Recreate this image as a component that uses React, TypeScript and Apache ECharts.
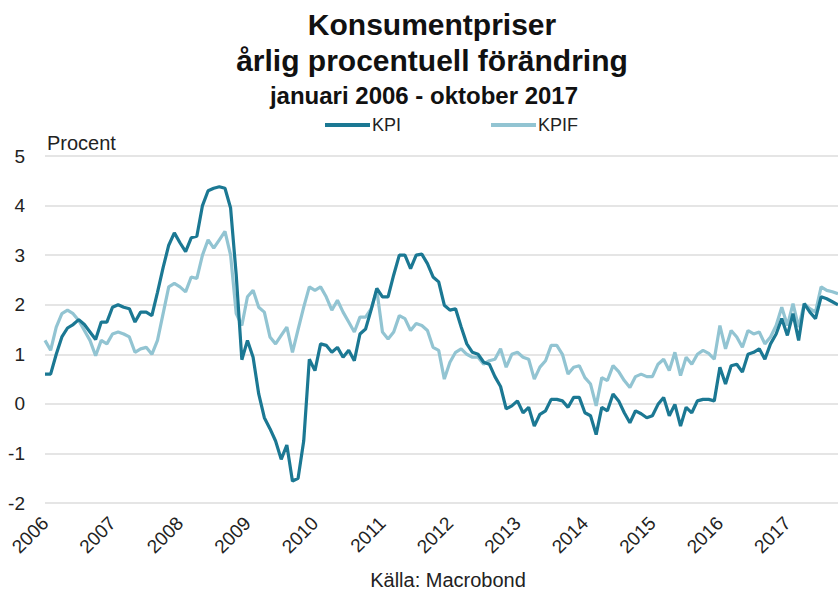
import React, { useEffect, useRef } from "react";
import * as echarts from "echarts";

const years = [2006, 2007, 2008, 2009, 2010, 2011, 2012, 2013, 2014, 2015, 2016, 2017];
const lastYearMonths = 10; // januari 2006 - oktober 2017

const kpi = [
  0.6, 0.6, 1.0, 1.35, 1.53, 1.6, 1.7, 1.6, 1.45, 1.3, 1.65, 1.65,
  1.95, 2.0, 1.95, 1.92, 1.65, 1.85, 1.85, 1.78, 2.25, 2.75, 3.2, 3.45,
  3.25, 3.07, 3.35, 3.38, 4.0, 4.3, 4.35, 4.38, 4.35, 3.95, 2.6, 0.89,
  1.28, 0.94, 0.2, -0.28, -0.5, -0.75, -1.12, -0.83, -1.56, -1.5, -0.75, 0.9,
  0.67, 1.21, 1.18, 1.04, 1.14, 0.94, 1.08, 0.87, 1.41, 1.51, 1.9, 2.33,
  2.16, 2.16, 2.6, 3.0, 3.0, 2.73, 3.0, 3.02, 2.83, 2.56, 2.46, 1.99,
  1.89, 1.92, 1.55, 1.21, 1.04, 1.0, 0.84, 0.8, 0.55, 0.35, -0.1, -0.04,
  0.06, -0.18, -0.07, -0.45, -0.21, -0.14, 0.09, 0.09, 0.06, -0.07, 0.13, 0.13,
  -0.18, -0.24, -0.62, -0.07, -0.14, 0.2, 0.06, -0.18, -0.38, -0.14, -0.2, -0.28,
  -0.24, -0.01, 0.13, -0.24, -0.01, -0.45, -0.07, -0.18, 0.06, 0.09, 0.09, 0.06,
  0.74, 0.4, 0.77, 0.8, 0.64, 1.0, 1.04, 1.11, 0.9, 1.21, 1.41, 1.72,
  1.38, 1.82, 1.28, 2.02, 1.85, 1.72, 2.16, 2.12, 2.06, 2.0,
];

const kpif = [
  1.28, 1.08, 1.55, 1.82, 1.89, 1.82, 1.68, 1.48, 1.28, 0.97, 1.28, 1.21,
  1.41, 1.45, 1.41, 1.35, 1.04, 1.11, 1.14, 1.0, 1.28, 1.82, 2.36, 2.43,
  2.36, 2.26, 2.56, 2.53, 3.0, 3.31, 3.14, 3.31, 3.48, 3.0, 1.82, 1.58,
  2.16, 2.29, 1.95, 1.85, 1.35, 1.21, 1.38, 1.55, 1.04, 1.5, 1.95, 2.36,
  2.29, 2.36, 2.16, 1.89, 2.09, 1.85, 1.65, 1.45, 1.75, 1.75, 1.92, 2.29,
  1.45, 1.31, 1.45, 1.78, 1.72, 1.48, 1.62, 1.58, 1.48, 1.14, 1.08, 0.5,
  0.84, 1.04, 1.11, 1.0, 0.94, 0.94, 0.8, 0.87, 0.9, 1.11, 0.74, 1.0,
  1.04, 0.94, 0.9, 0.5, 0.74, 0.87, 1.18, 1.18, 1.0, 0.6, 0.74, 0.77,
  0.53, 0.4, -0.04, 0.53, 0.47, 0.77, 0.65, 0.47, 0.33, 0.55, 0.6, 0.55,
  0.55, 0.8, 0.9, 0.67, 1.04, 0.57, 0.94, 0.8, 1.0, 1.08, 1.02, 0.9,
  1.58, 1.11, 1.48, 1.35, 1.14, 1.48, 1.41, 1.45, 1.21, 1.35, 1.58, 1.95,
  1.58, 2.02, 1.55, 2.02, 1.92, 1.85, 2.36, 2.29, 2.26, 2.22,
];

const titleLines = ["Konsumentpriser", "årlig procentuell förändring", "januari 2006 - oktober 2017"];
const seriesNames = ["KPI", "KPIF"];
const yTicks = { min: -2, max: 5, interval: 1 };

const months: string[] = [];
years.forEach((y, yi) => {
  const n = yi === years.length - 1 ? lastYearMonths : 12;
  for (let m = 1; m <= n; m++) months.push(`${y}-${String(m).padStart(2, "0")}`);
});

const FONT = "'Liberation Sans', Arial, sans-serif";

export default function App() {
  const ref = useRef<HTMLDivElement>(null);
  useEffect(() => {
    if (!ref.current) return;
    const chart = echarts.init(ref.current, undefined, { renderer: "svg" });
    chart.setOption({
      animation: false,
      backgroundColor: "#ffffff",
      textStyle: { fontFamily: FONT },
      graphic: [
        {
          type: "text", x: 432, y: 24,
          style: { text: titleLines[0], font: `bold 30px ${FONT}`, fill: "#111", align: "center", verticalAlign: "middle" },
        },
        {
          type: "text", x: 432, y: 60,
          style: { text: titleLines[1], font: `bold 30px ${FONT}`, fill: "#111", align: "center", verticalAlign: "middle" },
        },
        {
          type: "text", x: 424, y: 95,
          style: { text: titleLines[2], font: `bold 24px ${FONT}`, fill: "#111", align: "center", verticalAlign: "middle" },
        },
        {
          type: "text", x: 47, y: 143,
          style: { text: "Procent", font: `20px ${FONT}`, fill: "#222", align: "left", verticalAlign: "middle" },
        },
        {
          type: "text", x: 448, y: 580,
          style: { text: "Källa: Macrobond", font: `20px ${FONT}`, fill: "#222", align: "center", verticalAlign: "middle" },
        },
      ],
      legend: {
        data: seriesNames,
        left: 325,
        top: 116,
        icon: "rect",
        itemWidth: 45,
        itemHeight: 4,
        itemGap: 90,
        padding: 0,
        textStyle: { fontSize: 18, color: "#222", fontFamily: FONT, padding: [0, 0, 0, -3] },
      },
      grid: { left: 45, right: -5, top: 156, bottom: 87, containLabel: false },
      xAxis: {
        type: "category",
        data: months,
        boundaryGap: false,
        axisLine: { show: false },
        axisTick: { show: false },
        splitLine: { show: false },
        axisLabel: {
          interval: (idx: number) => idx % 12 === 0,
          formatter: (v: string) => v.slice(0, 4),
          rotate: 45,
          margin: 17,
          fontSize: 19,
          color: "#222",
          fontFamily: FONT,
        },
      },
      yAxis: {
        type: "value",
        min: yTicks.min,
        max: yTicks.max,
        interval: yTicks.interval,
        axisLine: { show: false },
        axisTick: { show: false },
        axisLabel: { fontSize: 19, color: "#222", margin: 20, fontFamily: FONT },
        splitLine: { lineStyle: { color: "#dcdcdc", width: 1.5 } },
      },
      series: [
        {
          name: seriesNames[1],
          type: "line",
          data: kpif,
          symbol: "none",
          lineStyle: { width: 3.2, color: "#92c4d2" },
          itemStyle: { color: "#92c4d2" },
          z: 2,
        },
        {
          name: seriesNames[0],
          type: "line",
          data: kpi,
          symbol: "none",
          lineStyle: { width: 3.2, color: "#1b7893" },
          itemStyle: { color: "#1b7893" },
          z: 3,
        },
      ],
    });
    return () => chart.dispose();
  }, []);
  return (
    <div style={{ position: "fixed", left: 0, top: 0, width: 838, height: 590, overflow: "hidden", background: "#fff" }}>
      <div ref={ref} style={{ width: 838, height: 590 }} />
    </div>
  );
}
